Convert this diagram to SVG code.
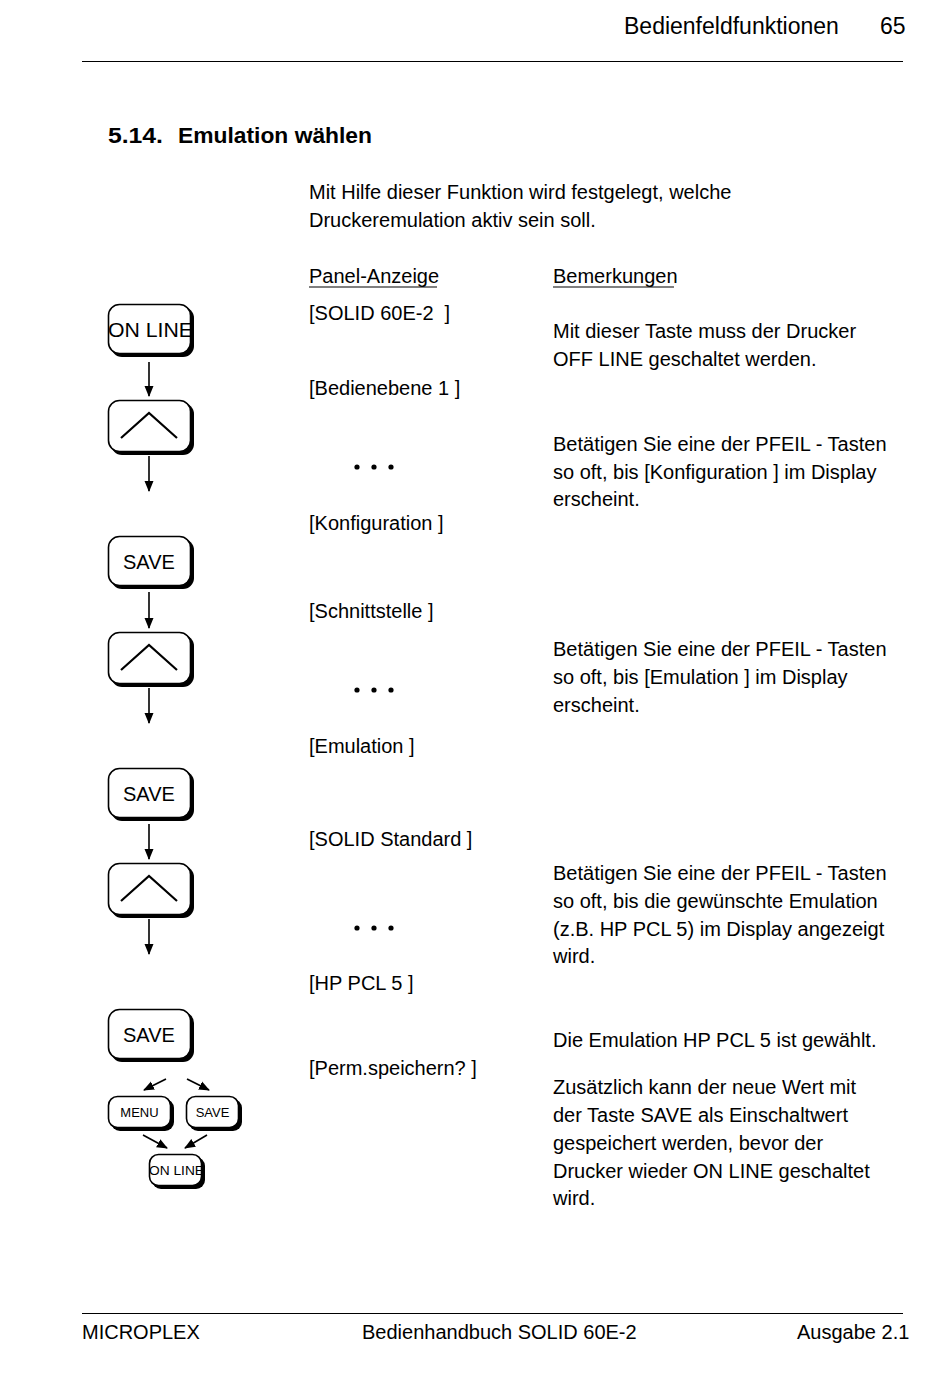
<svg xmlns="http://www.w3.org/2000/svg" width="950" height="1379" viewBox="0 0 950 1379">
<style>
text{font-family:"Liberation Sans",Arial,sans-serif;fill:#000}
.t{font-size:20px}
.h{font-size:23px}
.b{font-size:22px;font-weight:bold}
.k{font-size:20px}
.ks{font-size:13px}
.bx{fill:#fff;stroke:#000;stroke-width:1.6}
.sh{fill:#000}
.ln{stroke:#000;stroke-width:1.6;fill:none}
.ch{stroke:#000;stroke-width:2.2;fill:none}
.dt{fill:#000}
</style>
<defs>
<marker id="ah" markerWidth="11" markerHeight="11" refX="10" refY="5.5" orient="auto" markerUnits="userSpaceOnUse">
<path d="M0,1 L11,5.5 L0,10 Z" fill="#000"/>
</marker>
</defs>
<rect width="950" height="1379" fill="#fff"/>
<g id="header">
<text class="h" x="624" y="34">Bedienfeldfunktionen</text>
<text class="h" x="880" y="34">65</text>
<line x1="82" y1="61.5" x2="903" y2="61.5" stroke="#000" stroke-width="1"/>
</g>
<g id="title">
<text class="b" x="108" y="143" textLength="55" lengthAdjust="spacingAndGlyphs">5.14.</text>
<text class="b" x="178" y="143" textLength="194" lengthAdjust="spacingAndGlyphs">Emulation wählen</text>
</g>
<g id="intro">
<text class="t" x="309" y="199">Mit Hilfe dieser Funktion wird festgelegt, welche</text>
<text class="t" x="309" y="227">Druckeremulation aktiv sein soll.</text>
</g>
<g id="colheads">
<text class="t" x="309" y="283">Panel-Anzeige</text>
<line x1="309" y1="287" x2="437" y2="287" stroke="#000" stroke-width="1.2"/>
<text class="t" x="553" y="283">Bemerkungen</text>
<line x1="553" y1="287" x2="674" y2="287" stroke="#000" stroke-width="1.2"/>
</g>
<g id="panel">
<text class="t" x="309" y="320" xml:space="preserve">[SOLID 60E-2  ]</text>
<text class="t" x="309" y="395">[Bedienebene 1 ]</text>
<g class="dt"><circle cx="357" cy="467" r="2.6"/><circle cx="374" cy="467" r="2.6"/><circle cx="391" cy="467" r="2.6"/></g>
<text class="t" x="309" y="530">[Konfiguration ]</text>
<text class="t" x="309" y="618">[Schnittstelle ]</text>
<g class="dt"><circle cx="357" cy="690" r="2.6"/><circle cx="374" cy="690" r="2.6"/><circle cx="391" cy="690" r="2.6"/></g>
<text class="t" x="309" y="753">[Emulation ]</text>
<text class="t" x="309" y="846">[SOLID Standard ]</text>
<g class="dt"><circle cx="357" cy="928" r="2.6"/><circle cx="374" cy="928" r="2.6"/><circle cx="391" cy="928" r="2.6"/></g>
<text class="t" x="309" y="990">[HP PCL 5 ]</text>
<text class="t" x="309" y="1075">[Perm.speichern? ]</text>
</g>
<g id="remarks">
<text class="t" x="553" y="338">Mit dieser Taste muss der Drucker</text>
<text class="t" x="553" y="366">OFF LINE geschaltet werden.</text>
<text class="t" x="553" y="451">Betätigen Sie eine der PFEIL - Tasten</text>
<text class="t" x="553" y="479">so oft, bis [Konfiguration ] im Display</text>
<text class="t" x="553" y="506">erscheint.</text>
<text class="t" x="553" y="656">Betätigen Sie eine der PFEIL - Tasten</text>
<text class="t" x="553" y="684">so oft, bis [Emulation ] im Display</text>
<text class="t" x="553" y="712">erscheint.</text>
<text class="t" x="553" y="880">Betätigen Sie eine der PFEIL - Tasten</text>
<text class="t" x="553" y="908">so oft, bis die gewünschte Emulation</text>
<text class="t" x="553" y="936">(z.B. HP PCL 5) im Display angezeigt</text>
<text class="t" x="553" y="963">wird.</text>
<text class="t" x="553" y="1047">Die Emulation HP PCL 5 ist gewählt.</text>
<text class="t" x="553" y="1094">Zusätzlich kann der neue Wert mit</text>
<text class="t" x="553" y="1122">der Taste SAVE als Einschaltwert</text>
<text class="t" x="553" y="1150">gespeichert werden, bevor der</text>
<text class="t" x="553" y="1178">Drucker wieder ON LINE geschaltet</text>
<text class="t" x="553" y="1205">wird.</text>
</g>
<g id="key-online1">
<rect class="sh" x="111" y="307" width="83" height="50" rx="11"/>
<rect class="bx" x="108.5" y="304.5" width="82" height="49" rx="11"/>
<text class="k" x="108" y="337" textLength="85" lengthAdjust="spacingAndGlyphs">ON LINE</text>
</g>
<g id="key-up1">
<rect class="sh" x="111" y="403" width="83" height="52" rx="11"/>
<rect class="bx" x="108.5" y="400.5" width="82" height="51" rx="11"/>
<path class="ch" d="M121,438 L149,413 L177,438"/>
</g>
<g id="key-save1">
<rect class="sh" x="111" y="539" width="83" height="50" rx="11"/>
<rect class="bx" x="108.5" y="536.5" width="82" height="49" rx="11"/>
<text class="k" x="123" y="569">SAVE</text>
</g>
<g id="key-up2">
<rect class="sh" x="111" y="635" width="83" height="52" rx="11"/>
<rect class="bx" x="108.5" y="632.5" width="82" height="51" rx="11"/>
<path class="ch" d="M121,670 L149,645 L177,670"/>
</g>
<g id="key-save2">
<rect class="sh" x="111" y="771" width="83" height="50" rx="11"/>
<rect class="bx" x="108.5" y="768.5" width="82" height="49" rx="11"/>
<text class="k" x="123" y="801">SAVE</text>
</g>
<g id="key-up3">
<rect class="sh" x="111" y="866" width="83" height="52" rx="11"/>
<rect class="bx" x="108.5" y="863.5" width="82" height="51" rx="11"/>
<path class="ch" d="M121,901 L149,876 L177,901"/>
</g>
<g id="key-save3">
<rect class="sh" x="111" y="1012" width="83" height="50" rx="11"/>
<rect class="bx" x="108.5" y="1009.5" width="82" height="49" rx="11"/>
<text class="k" x="123" y="1042">SAVE</text>
</g>
<g id="key-menu">
<rect class="sh" x="111" y="1099" width="63" height="32" rx="9"/>
<rect class="bx" x="108.5" y="1096.5" width="62" height="31" rx="9"/>
<text class="ks" x="139.5" y="1117" text-anchor="middle">MENU</text>
</g>
<g id="key-save4">
<rect class="sh" x="189" y="1099" width="53" height="32" rx="9"/>
<rect class="bx" x="186.5" y="1096.5" width="52" height="31" rx="9"/>
<text class="ks" x="212.5" y="1117" text-anchor="middle">SAVE</text>
</g>
<g id="key-online2">
<rect class="sh" x="152" y="1157" width="53" height="32" rx="9"/>
<rect class="bx" x="149.5" y="1154.5" width="52" height="31" rx="9"/>
<text class="ks" x="149" y="1175" textLength="55" lengthAdjust="spacingAndGlyphs">ON LINE</text>
</g>
<g id="connectors">
<line class="ln" x1="149" y1="362" x2="149" y2="396" marker-end="url(#ah)"/>
<line class="ln" x1="149" y1="456" x2="149" y2="491" marker-end="url(#ah)"/>
<line class="ln" x1="149" y1="592" x2="149" y2="628" marker-end="url(#ah)"/>
<line class="ln" x1="149" y1="688" x2="149" y2="723" marker-end="url(#ah)"/>
<line class="ln" x1="149" y1="824" x2="149" y2="859" marker-end="url(#ah)"/>
<line class="ln" x1="149" y1="919" x2="149" y2="954" marker-end="url(#ah)"/>
<line class="ln" x1="166" y1="1079" x2="144" y2="1090" marker-end="url(#ah)"/>
<line class="ln" x1="187" y1="1079" x2="209" y2="1090" marker-end="url(#ah)"/>
<line class="ln" x1="143" y1="1135" x2="167" y2="1148" marker-end="url(#ah)"/>
<line class="ln" x1="207" y1="1135" x2="185" y2="1148" marker-end="url(#ah)"/>
</g>
<g id="footer">
<line x1="82" y1="1313.5" x2="903" y2="1313.5" stroke="#000" stroke-width="1"/>
<text class="t" x="82" y="1339">MICROPLEX</text>
<text class="t" x="362" y="1339">Bedienhandbuch SOLID 60E-2</text>
<text class="t" x="797" y="1339">Ausgabe 2.1</text>
</g>
</svg>
